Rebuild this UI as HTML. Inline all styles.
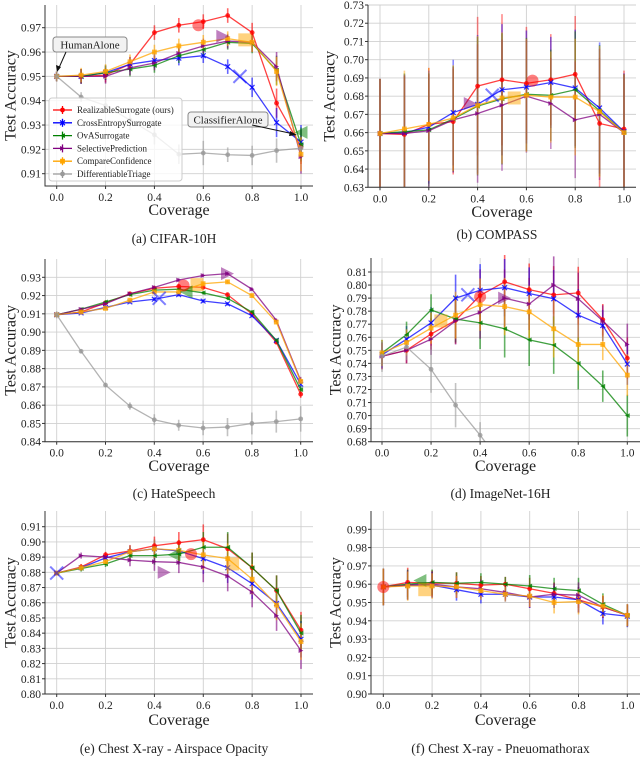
<!DOCTYPE html>
<html><head><meta charset="utf-8">
<style>
html,body{margin:0;padding:0;background:#fff;}
svg{display:block;font-family:"Liberation Serif",serif;}
</style></head>
<body>
<svg id="fig" width="640" height="757" viewBox="0 0 640 757" xmlns="http://www.w3.org/2000/svg"></svg>
<script>
const coverage=[0,0.1,0.2,0.3,0.4,0.5,0.6,0.7,0.8,0.9,1.0];
const xTicks=[0,0.2,0.4,0.6,0.8,1.0];
const xTickLabels=["0.0","0.2","0.4","0.6","0.8","1.0"];
const seriesNames=["RealizableSurrogate (ours)","CrossEntropySurrogate","OvASurrogate","SelectivePrediction","CompareConfidence","DifferentiableTriage"];

// (a) CIFAR-10H
const aRed=[0.950,0.950,0.9505,0.955,0.968,0.971,0.9725,0.975,0.968,0.939,0.921];
const aBlue=[0.950,0.950,0.9515,0.955,0.9565,0.9575,0.9585,0.954,0.9455,0.931,0.923];
const aGreen=[0.950,0.950,0.9515,0.953,0.9545,0.9585,0.961,0.964,0.9635,0.9525,0.922];
const aPurple=[0.950,0.950,0.950,0.9535,0.9555,0.9595,0.9625,0.9645,0.964,0.954,0.917];
const aOrange=[0.950,0.9505,0.952,0.956,0.960,0.9625,0.964,0.9655,0.964,0.952,0.918];
const aGray=[0.950,0.9415,0.938,0.932,0.926,0.918,0.9185,0.9178,0.9175,0.9195,0.9205];
const aErr=[0.002,0.003,0.003,0.003,0.003,0.003,0.003,0.003,0.004,0.006,0.007];
const aGrayErr=[0.002,0.002,0.003,0.004,0.004,0.004,0.005,0.003,0.004,0.005,0.003];
const aTicks=[0.91,0.92,0.93,0.94,0.95,0.96,0.97];
// (b) COMPASS
const bRed=[0.6595,0.659,0.6645,0.666,0.6855,0.689,0.687,0.689,0.692,0.665,0.662];
const bBlue=[0.6595,0.660,0.663,0.671,0.6755,0.6835,0.685,0.6875,0.6845,0.6735,0.6605];
const bGreen=[0.6595,0.6605,0.6615,0.6675,0.6745,0.6785,0.681,0.6805,0.6835,0.672,0.660];
const bPurple=[0.6595,0.6595,0.661,0.667,0.6705,0.675,0.680,0.676,0.667,0.670,0.660];
const bOrange=[0.6595,0.662,0.6645,0.668,0.675,0.679,0.6805,0.6795,0.6795,0.6715,0.660];
const bErr=[0.030,0.032,0.031,0.029,0.038,0.036,0.031,0.025,0.032,0.036,0.032];
const bTicks=[0.63,0.64,0.65,0.66,0.67,0.68,0.69,0.70,0.71,0.72,0.73];
// (c) HateSpeech
const cRed=[0.9095,0.911,0.916,0.921,0.924,0.925,0.9245,0.9205,0.910,0.8945,0.866];
const cBlue=[0.9095,0.9105,0.9135,0.9165,0.918,0.9205,0.917,0.9155,0.909,0.8955,0.8715];
const cGreen=[0.9095,0.9125,0.9165,0.9205,0.923,0.9235,0.9215,0.9185,0.911,0.8955,0.8685];
const cPurple=[0.9095,0.9125,0.9155,0.921,0.9245,0.9285,0.931,0.932,0.9235,0.9065,0.8735];
const cOrange=[0.9095,0.911,0.913,0.9175,0.922,0.922,0.9265,0.9275,0.920,0.9055,0.873];
const cGray=[0.9095,0.8895,0.871,0.8595,0.852,0.849,0.8475,0.848,0.850,0.851,0.8525];
const cErr=[0.001,0.001,0.001,0.001,0.001,0.001,0.001,0.001,0.001,0.001,0.002];
const cGrayErr=[0.002,0.001,0.001,0.002,0.003,0.003,0.004,0.005,0.006,0.006,0.007];
const cTicks=[0.84,0.85,0.86,0.87,0.88,0.89,0.90,0.91,0.92,0.93];
// (d) ImageNet-16H
const dRed=[0.7455,0.750,0.7625,0.773,0.792,0.8025,0.7965,0.7925,0.794,0.7735,0.744];
const dBlue=[0.7465,0.7585,0.771,0.790,0.796,0.798,0.7935,0.7895,0.777,0.769,0.7395];
const dGreen=[0.748,0.762,0.781,0.774,0.771,0.7665,0.758,0.754,0.740,0.7225,0.700];
const dPurple=[0.7455,0.750,0.7585,0.7725,0.779,0.790,0.7855,0.800,0.7895,0.7725,0.7545];
const dOrange=[0.748,0.756,0.767,0.777,0.785,0.7835,0.7795,0.7665,0.7545,0.7545,0.731];
const dGray=[0.7455,0.7525,0.7355,0.708,0.685,0.66,0.64,0.62,0.60,0.58,0.56];
const dErr=[0.010,0.010,0.012,0.018,0.020,0.022,0.020,0.022,0.020,0.012,0.016];
const dGrayErr=[0.012,0.010,0.018,0.017,0.010,0.01,0.01,0.01,0.01,0.01,0.01];
const dTicks=[0.68,0.69,0.70,0.71,0.72,0.73,0.74,0.75,0.76,0.77,0.78,0.79,0.80,0.81];
// (e) Chest X-ray - Airspace Opacity
const eRed=[0.8795,0.8835,0.8915,0.894,0.8975,0.8995,0.9015,0.8955,0.883,0.868,0.842];
const eBlue=[0.8795,0.883,0.8895,0.8935,0.8955,0.894,0.889,0.883,0.8725,0.8595,0.836];
const eGreen=[0.8795,0.8825,0.8855,0.891,0.891,0.892,0.8965,0.8965,0.883,0.868,0.840];
const ePurple=[0.8795,0.891,0.890,0.888,0.887,0.8865,0.8835,0.8775,0.867,0.8515,0.8285];
const eOrange=[0.8795,0.883,0.887,0.8935,0.8955,0.8945,0.8915,0.889,0.8755,0.8585,0.8345];
const eErr=[0.001,0.002,0.002,0.004,0.006,0.007,0.010,0.010,0.010,0.010,0.012];
const eTicks=[0.80,0.81,0.82,0.83,0.84,0.85,0.86,0.87,0.88,0.89,0.90,0.91];
// (f) Chest X-ray - Pneuomathorax
const fRed=[0.9585,0.961,0.9605,0.9605,0.9595,0.960,0.9575,0.955,0.9515,0.9475,0.943];
const fBlue=[0.9585,0.9595,0.9595,0.957,0.9545,0.9545,0.953,0.953,0.9515,0.944,0.9425];
const fGreen=[0.9585,0.960,0.961,0.9605,0.961,0.960,0.959,0.9575,0.9565,0.949,0.943];
const fPurple=[0.9585,0.9595,0.960,0.9585,0.9575,0.9555,0.953,0.9545,0.954,0.9475,0.943];
const fOrange=[0.9585,0.959,0.959,0.9585,0.9565,0.9545,0.9535,0.950,0.9505,0.948,0.943];
const fErr=[0.010,0.008,0.007,0.006,0.005,0.004,0.006,0.006,0.007,0.006,0.006];
const fTicks=[0.90,0.91,0.92,0.93,0.94,0.95,0.96,0.97,0.98,0.99];

// highlighted (large translucent) markers: [series index, coverage, accuracy]
const aBig=[[0,0.58,0.971],[1,0.75,0.950],[3,0.68,0.9665],[4,0.77,0.965],[2,1.0,0.927]];
const bBig=[[0,0.625,0.6885],[1,0.46,0.6805],[3,0.37,0.676],[4,0.55,0.679]];
const cBig=[[1,0.42,0.9185],[4,0.575,0.926],[3,0.70,0.932],[2,0.53,0.922],[0,0.52,0.9255]];
const dBig=[[0,0.40,0.791],[4,0.24,0.7725],[1,0.35,0.7925],[3,0.50,0.790]];
const eBig=[[0,0.55,0.892],[2,0.48,0.8915],[3,0.44,0.880],[4,0.72,0.8855],[1,0.0,0.8795]];
const fBig=[[0,0.0,0.9585],[2,0.15,0.962],[4,0.17,0.957]];

const colors=["#ff0000","#0000ff","#008000","#800080","#ffa500","#999999"];
const keys=["red","blue","green","purple","orange","gray"];

const panels=[
 {id:"a",L:45,R:313,T:5,B:186,x0:56.7,x1:301,vLo:0.91,pLo:173.7,vHi:0.97,pHi:27.7,ticks:aTicks,
  series:[aRed,aBlue,aGreen,aPurple,aOrange,aGray],errs:[aErr,aErr,aErr,aErr,aErr,aGrayErr],big:aBig,
  cap:"(a) CIFAR-10H",capY:243,xlY:215,ylX:12,legend:true},
 {id:"b",L:368,R:636,T:5,B:187.3,x0:380,x1:624,vLo:0.63,pLo:187.3,vHi:0.73,pHi:5,ticks:bTicks,
  series:[bRed,bBlue,bGreen,bPurple,bOrange],errs:[bErr,bErr,bErr,bErr,bErr],big:bBig,
  cap:"(b) COMPASS",capY:239,xlY:217,ylX:331},
 {id:"c",L:45,R:313,T:259,B:441.7,x0:56.7,x1:300.7,vLo:0.84,pLo:441.7,vHi:0.93,pHi:277.3,ticks:cTicks,
  series:[cRed,cBlue,cGreen,cPurple,cOrange,cGray],errs:[cErr,cErr,cErr,cErr,cErr,cGrayErr],big:cBig,
  cap:"(c) HateSpeech",capY:498,xlY:471,ylX:12},
 {id:"d",L:371,R:640,T:258,B:441.7,x0:382,x1:627.3,vLo:0.68,pLo:441.7,vHi:0.81,pHi:272,ticks:dTicks,
  series:[dRed,dBlue,dGreen,dPurple,dOrange,dGray],errs:[dErr,dErr,dErr,dErr,dErr,dGrayErr],big:dBig,
  cap:"(d) ImageNet-16H",capY:498,xlY:471,ylX:337},
 {id:"e",L:45,R:313,T:511,B:694,x0:56.7,x1:301,vLo:0.80,pLo:694,vHi:0.91,pHi:526.7,ticks:eTicks,
  series:[eRed,eBlue,eGreen,ePurple,eOrange],errs:[eErr,eErr,eErr,eErr,eErr],big:eBig,
  cap:"(e) Chest X-ray - Airspace Opacity",capY:753,xlY:725,ylX:12},
 {id:"f",L:371,R:640,T:511,B:694,x0:383.3,x1:627.3,vLo:0.90,pLo:694,vHi:0.99,pHi:529.3,ticks:fTicks,
  series:[fRed,fBlue,fGreen,fPurple,fOrange],errs:[fErr,fErr,fErr,fErr,fErr],big:fBig,
  cap:"(f) Chest X-ray - Pneuomathorax",capY:753,xlY:725,ylX:337}
];

const NS="http://www.w3.org/2000/svg";
const svg=document.getElementById("fig");
function mk(tag,attrs,parent){const e=document.createElementNS(NS,tag);for(const k in attrs)e.setAttribute(k,attrs[k]);(parent||svg).appendChild(e);return e;}

function marker(g,i,x,y,s,op){
  const c=colors[i];let m;
  if(i===0||i===5){m=mk("circle",{cx:x,cy:y,r:s,fill:c,"fill-opacity":op},g);}
  else if(i===1){m=mk("path",{d:`M${x-s},${y-s}L${x+s},${y+s}M${x-s},${y+s}L${x+s},${y-s}`,stroke:c,"stroke-width":s>4?2:1.2,"stroke-opacity":op,fill:"none"},g);}
  else if(i===2){m=mk("polygon",{points:`${x-s},${y} ${x+s},${y-s} ${x+s},${y+s}`,fill:c,"fill-opacity":op},g);}
  else if(i===3){m=mk("polygon",{points:`${x+s},${y} ${x-s},${y-s} ${x-s},${y+s}`,fill:c,"fill-opacity":op},g);}
  else {m=mk("rect",{x:x-s,y:y-s,width:2*s,height:2*s,fill:c,"fill-opacity":op},g);}
  return m;
}

panels.forEach(p=>{
  const g=mk("g",{});
  
  
  const X=v=>p.x0+(v)*(p.x1-p.x0);
  const Y=v=>p.pLo+(v-p.vLo)*(p.pHi-p.pLo)/(p.vHi-p.vLo);
  // grid
  p.ticks.forEach(t=>{const l=mk("line",{x1:p.L,x2:p.R,y1:Y(t),y2:Y(t),stroke:"#d0d0d0","stroke-width":0.9},g);
    });
  xTicks.forEach(t=>{const l=mk("line",{x1:X(t),x2:X(t),y1:p.T,y2:p.B,stroke:"#d0d0d0","stroke-width":0.9},g);
    });
  // clip
  const cp=mk("clipPath",{id:"clip"+p.id},g);mk("rect",{x:p.L,y:p.T-3,width:p.R-p.L,height:p.B-p.T+3},cp);
  const dg=mk("g",{"clip-path":`url(#clip${p.id})`},g);
  // error bars
  p.series.forEach((s,i)=>{
    const eg=mk("g",{},dg);
    
    s.forEach((v,k)=>{const e=p.errs[i][k];
      mk("line",{x1:X(coverage[k]),x2:X(coverage[k]),y1:Y(v-e),y2:Y(v+e),stroke:colors[i],"stroke-width":1.6,"stroke-opacity":p.id==="b"?0.45:0.6},eg);});
  });
  // lines and markers
  p.series.forEach((s,i)=>{
    const sg=mk("g",{},dg);
    
    const pl=mk("polyline",{points:s.map((v,k)=>X(coverage[k])+","+Y(v)).join(" "),fill:"none",stroke:colors[i],"stroke-width":1.3,"stroke-opacity":0.75},sg);
    
    s.forEach((v,k)=>{const m=marker(sg,i,X(coverage[k]),Y(v),2.4,0.8);
      });
  });
  p.big.forEach(b=>{const m=marker(dg,b[0],X(b[1]),Y(b[2]),b[0]===0?6:6.5,0.5);
    });
  // spines
  const sp=mk("path",{d:`M${p.L},${p.T}L${p.L},${p.B}L${p.R},${p.B}`,stroke:"#333",fill:"none","stroke-width":1},g);
  
  // ticks
  p.ticks.forEach(t=>{mk("line",{x1:p.L-3,x2:p.L,y1:Y(t),y2:Y(t),stroke:"#333"},g);
    const tx=mk("text",{x:p.L-4,y:Y(t)+4,"text-anchor":"end","font-size":11.5,fill:"#222"},g);tx.textContent=t.toFixed(2);
    });
  xTicks.forEach((t,k)=>{mk("line",{x1:X(t),x2:X(t),y1:p.B,y2:p.B+3,stroke:"#333"},g);
    const tx=mk("text",{x:X(t),y:p.B+15,"text-anchor":"middle","font-size":11.5,fill:"#222"},g);tx.textContent=xTickLabels[k];
    });
  const xl=mk("text",{x:(p.L+p.R)/2,y:p.xlY,"text-anchor":"middle","font-size":16,fill:"#222"},g);xl.textContent="Coverage";
  
  const cy=(p.T+p.B)/2;
  const yl=mk("text",{x:p.ylX,y:cy,"text-anchor":"middle","font-size":16,fill:"#222",transform:`rotate(-90 ${p.ylX} ${cy})`,"dominant-baseline":"middle"},g);yl.textContent="Test Accuracy";
  
  const cap=mk("text",{x:(p.L+p.R)/2-5,y:p.capY,"text-anchor":"middle","font-size":13.5,fill:"#222"},g);cap.textContent=p.cap;
  
  if(p.legend){
    const lg=mk("g",{},g);
    
    mk("rect",{x:49,y:98,width:133,height:83,rx:3,fill:"#fff","fill-opacity":0.8,stroke:"#ccc"},lg);
    seriesNames.forEach((n,i)=>{const yy=110+i*12.8;
      const eg=mk("g",{},lg);
      
      mk("line",{x1:53,x2:72,y1:yy,y2:yy,stroke:colors[i],"stroke-width":1.3},eg);
      mk("line",{x1:62.5,x2:62.5,y1:yy-4,y2:yy+4,stroke:colors[i],"stroke-width":1.3},eg);
      marker(eg,i,62.5,yy,2.4,1);
      const t=mk("text",{x:77,y:yy+3,"font-size":9,fill:"#222"},eg);t.textContent=n;});
    // annotations
    const a1=mk("g",{},g);
    mk("rect",{x:53,y:37,width:74,height:15,rx:3,fill:"#f2f2f2",stroke:"#888"},a1);
    const t1=mk("text",{x:90,y:48.5,"text-anchor":"middle","font-size":11,fill:"#222"},a1);t1.textContent="HumanAlone";
    mk("line",{x1:66,x2:58,y1:52,y2:70,stroke:"#111","stroke-width":1},a1);
    mk("polygon",{points:"57,72 56,65 61,67",fill:"#111"},a1);
    const a2=mk("g",{},g);
    mk("rect",{x:188,y:112,width:80,height:15,rx:3,fill:"#f2f2f2",stroke:"#888"},a2);
    const t2=mk("text",{x:228,y:123.5,"text-anchor":"middle","font-size":11,fill:"#222"},a2);t2.textContent="ClassifierAlone";
    mk("line",{x1:252,x2:294,y1:125,y2:134,stroke:"#111","stroke-width":1},a2);
    mk("polygon",{points:"297,135 290,131 289,136",fill:"#111"},a2);
  }
});
</script>
</body></html>
